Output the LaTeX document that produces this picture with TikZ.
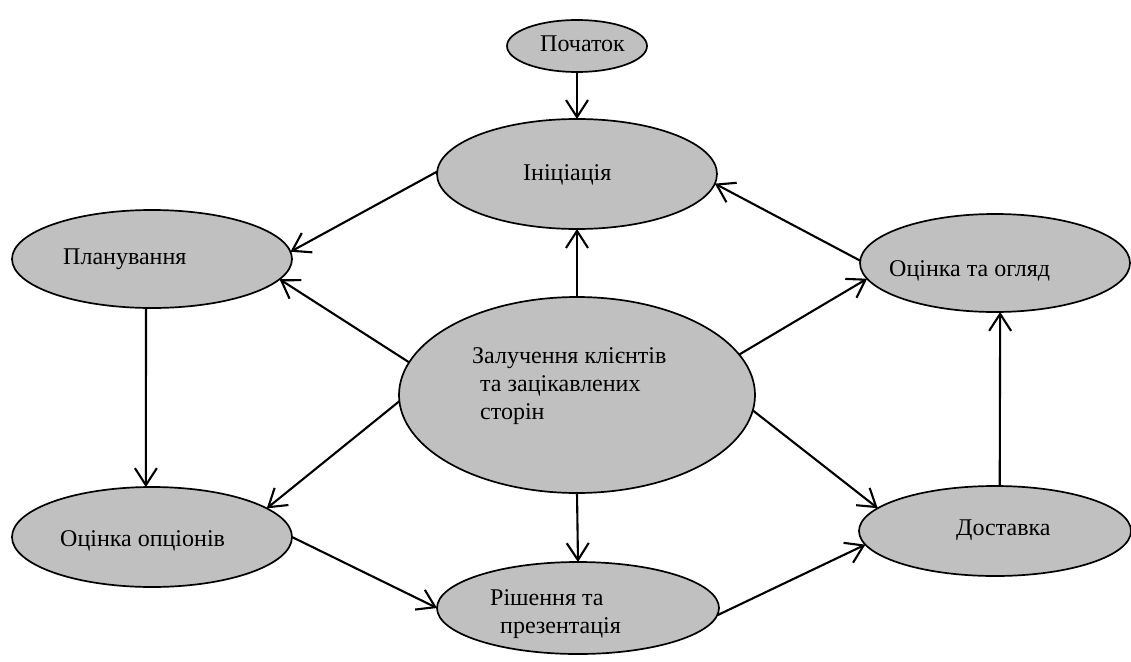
\documentclass[tikz,border=0pt]{standalone}
\usepackage{fontspec}
\setmainfont{Liberation Serif}
\usetikzlibrary{arrows.meta,shapes.geometric}
\definecolor{boxgray}{RGB}{192,192,192}
\begin{document}
\begin{tikzpicture}[x=1pt,y=-1pt,
  ell/.style={ellipse, draw=black, line width=1.7pt, fill=boxgray, inner sep=0pt, outer sep=0pt},
  lbl/.style={font=\fontsize{24pt}{28pt}\selectfont, inner sep=0pt, anchor=base west},
  conn/.style={line width=2.1pt, -{Straight Barb[length=17pt,width=22pt,line width=2.1pt]}}]
\fill[white] (0,0) rectangle (1131,661);
\useasboundingbox (0,0) rectangle (1131,661);

\node[ell, minimum width=140pt, minimum height=52pt] (start) at (577,46) {};
\node[ell, minimum width=280pt, minimum height=110pt] (ini) at (577,174) {};
\node[ell, minimum width=280pt, minimum height=98pt] (plan) at (152,259) {};
\node[ell, minimum width=270pt, minimum height=98pt] (ogl) at (995,263) {};
\node[ell, minimum width=356pt, minimum height=196pt] (zal) at (577,395) {};
\node[ell, minimum width=280pt, minimum height=100pt] (opt) at (152,537) {};
\node[ell, minimum width=282pt, minimum height=92pt] (rish) at (578,608) {};
\node[ell, minimum width=272pt, minimum height=90pt] (dost) at (995,531) {};

\node[lbl] (tstart) at (540,52) {Початок};
\node[lbl] (tini) at (523,180) {Ініціація};
\node[lbl] (tplan) at (63,264) {Планування};
\node[lbl] (togl) at (889,276) {Оцінка та огляд};
\node[lbl] (tzal1) at (472,363) {Залучення клієнтів};
\node[lbl] (tzal2) at (480,391) {та зацікавлених};
\node[lbl] (tzal3) at (480,419) {сторін};
\node[lbl] (topt) at (60,546) {Оцінка опціонів};
\node[lbl] (trish1) at (490,605) {Рішення та};
\node[lbl] (trish2) at (500,633) {презентація};
\node[lbl] (tdost) at (956,535) {Доставка};

\draw[conn] (start.south) -- (ini.north);
\draw[conn] (ini.179) -- (plan.3);
\draw[conn] (zal.north) -- (ini.south);
\draw[conn] (ogl.179) -- (ini.-4);
\draw[conn] (zal.169) -- (plan.-9);
\draw[conn] (zal.14) -- (ogl.-173);
\draw[conn] (plan.263) -- (opt.97);
\draw[conn] (zal.182) -- (opt.14);
\draw[conn] (zal.south) -- (rish.north);
\draw[conn] (zal.-5) -- (dost.169);
\draw[conn] (opt.0) -- (rish.180);
\draw[conn] (rish.-3) -- (dost.186);
\draw[conn] (dost.84) -- (ogl.-84);
\end{tikzpicture}
\end{document}
